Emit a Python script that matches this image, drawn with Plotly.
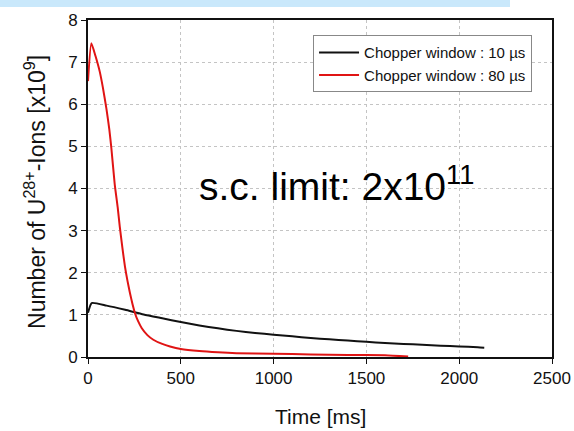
import plotly.graph_objects as go

# Data
t_10us = [0, 20, 100, 200, 300, 400, 500, 600, 700, 800, 900, 1000, 1100, 1200,
          1300, 1400, 1500, 1600, 1700, 1800, 1900, 2000, 2100, 2135]
n_10us = [1.05, 1.28, 1.22, 1.12, 1.01, 0.92, 0.83, 0.75, 0.68, 0.62, 0.57, 0.53,
          0.49, 0.45, 0.42, 0.39, 0.36, 0.33, 0.31, 0.29, 0.27, 0.25, 0.23, 0.22]

t_80us = [0, 18, 40, 63, 80, 99, 115, 126, 144, 160, 171, 185, 199, 213, 226, 240,
          253, 270, 289, 320, 352, 400, 442, 500, 600, 700, 800, 1000, 1200, 1400,
          1600, 1725]
n_80us = [6.55, 7.45, 7.15, 6.78, 6.4, 5.9, 5.4, 4.95, 4.1, 3.55, 3.1, 2.6, 2.15,
          1.8, 1.52, 1.25, 1.04, 0.85, 0.69, 0.52, 0.41, 0.31, 0.25, 0.19, 0.14,
          0.11, 0.09, 0.08, 0.06, 0.05, 0.04, 0.01]

x_ticks = [0, 500, 1000, 1500, 2000, 2500]
y_ticks = [0, 1, 2, 3, 4, 5, 6, 7, 8]

FONT = "Liberation Sans, Arial, sans-serif"

fig = go.Figure()
fig.add_trace(go.Scatter(x=t_10us, y=n_10us, mode="lines",
                         name="Chopper window : 10 \u00b5s",
                         line=dict(color="#111111", width=2, shape="spline", smoothing=0.5)))
fig.add_trace(go.Scatter(x=t_80us, y=n_80us, mode="lines",
                         name="Chopper window : 80 \u00b5s",
                         line=dict(color="#e01414", width=2, shape="spline", smoothing=0.5)))

axis_common = dict(showline=True, linecolor="#111111", linewidth=2, mirror=True,
                   ticks="outside", ticklen=5, tickcolor="#111111", tickwidth=1,
                   showgrid=True, gridcolor="#c4c4c4", griddash="dot", gridwidth=1,
                   zeroline=False, automargin=False,
                   tickfont=dict(family=FONT, size=17, color="#111111"))

fig.update_xaxes(range=[0, 2500], tickvals=x_ticks, **axis_common)
fig.update_yaxes(range=[0, 8], tickvals=y_ticks, **axis_common)

fig.update_layout(
    width=574, height=431,
    margin=dict(l=88, r=22, t=20, b=74),
    paper_bgcolor="white", plot_bgcolor="white",
    font=dict(family=FONT, color="#111111"),
    showlegend=True,
    legend=dict(x=0.957, y=0.955, xanchor="right", yanchor="top",
                bgcolor="white", bordercolor="#888888", borderwidth=1,
                font=dict(family=FONT, size=15, color="#111111"),
                tracegroupgap=0, itemwidth=40),
    shapes=[dict(type="rect", xref="paper", yref="paper",
                 x0=-0.19, x1=0.9095, y0=1.0386, y1=1.07,
                 fillcolor="#c9e8fb", line=dict(width=0), layer="below")],
    annotations=[
        dict(text="s.c. limit: 2x10<sup>11</sup>", x=587, y=4.12, xref="x", yref="y",
             xanchor="left", yanchor="middle", showarrow=False,
             font=dict(family=FONT, size=39, color="#000000")),
        dict(text="Number of U<sup>28+</sup>-Ions [x10<sup>9</sup>]", textangle=-90,
             x=-0.114, y=0.49, xref="paper", yref="paper", xanchor="center",
             yanchor="middle", showarrow=False,
             font=dict(family=FONT, size=23, color="#111111")),
        dict(text="Time [ms]", x=0.5, y=-0.178, xref="paper", yref="paper",
             xanchor="center", yanchor="middle", showarrow=False,
             font=dict(family=FONT, size=21, color="#111111")),
    ],
)

fig.write_html("out.html", config={"displayModeBar": False},
               post_script="document.body.style.margin='0';document.body.style.overflow='hidden';")
